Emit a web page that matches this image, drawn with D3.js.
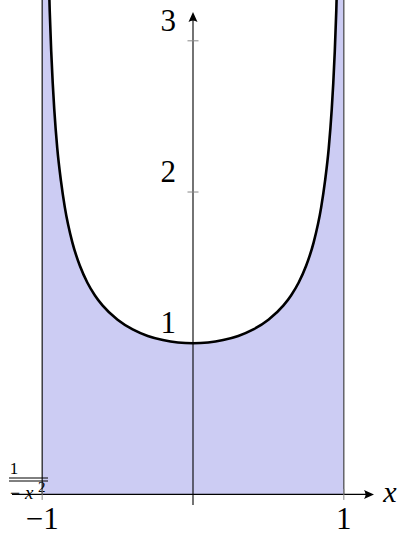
<!DOCTYPE html>
<html>
<head>
<meta charset="utf-8">
<script src="https://cdn.jsdelivr.net/npm/d3@7"></script>
<style>
  html, body { margin: 0; padding: 0; background: #fff; }
  svg { display: block; }
</style>
</head>
<body>
<script>
// Sampled points of y = 1/sqrt(1 - x^2) on (-1, 1)
const curveX = [-0.985, -0.98, -0.97, -0.96, -0.95, -0.94, -0.93, -0.92, -0.9, -0.875, -0.85, -0.8, -0.75, -0.7, -0.65, -0.6, -0.5, -0.4, -0.3, -0.2, -0.1, 0,
                0.1, 0.2, 0.3, 0.4, 0.5, 0.6, 0.65, 0.7, 0.75, 0.8, 0.85, 0.875, 0.9, 0.92, 0.93, 0.94, 0.95, 0.96, 0.97, 0.98, 0.985];
const curveY = [5.81, 5.03, 4.11, 3.57, 3.20, 2.93, 2.72, 2.55, 2.29, 2.07, 1.90, 1.667, 1.512, 1.400, 1.316, 1.250, 1.155, 1.091, 1.048, 1.021, 1.005, 1.000,
                1.005, 1.021, 1.048, 1.091, 1.155, 1.250, 1.316, 1.400, 1.512, 1.667, 1.90, 2.07, 2.29, 2.55, 2.72, 2.93, 3.20, 3.57, 4.11, 5.03, 5.81];
const xTicks = [-1, 1];
const xTickLabels = ["\u22121", "1"];
const yTicks = [1, 2, 3];
const yTickLabels = ["1", "2", "3"];
const xDomain = [-1.2, 1.2];
const yDomain = [-0.07, 3.27];

const W = 399, H = 535;
const SERIF = "'Liberation Serif', 'DejaVu Serif', serif";
const x = d3.scaleLinear().domain(xDomain).range([12, 374]);
const y = d3.scaleLinear().domain(yDomain).range([505, 0]);

const svg = d3.select("body").append("svg")
  .attr("width", W).attr("height", H)
  .attr("viewBox", `0 0 ${W} ${H}`);

svg.append("clipPath").attr("id", "plotClip")
  .append("rect").attr("x", 0).attr("y", 0).attr("width", W).attr("height", y(0));

const pts = curveX.map((d, i) => [d, curveY[i]]);

// Shaded region between x = -1 and x = 1 beneath the curve
const area = d3.area()
  .x(d => x(d[0])).y0(y(0)).y1(d => y(d[1]))
  .curve(d3.curveMonotoneX);
const fillPts = [[-1, 8], ...pts, [1, 8]];
svg.append("path")
  .attr("clip-path", "url(#plotClip)")
  .attr("d", area(fillPts))
  .attr("fill", "#ccccf3");

// Bounding verticals
[-1, 1].forEach(v => {
  svg.append("line")
    .attr("x1", x(v)).attr("x2", x(v))
    .attr("y1", 0).attr("y2", y(0))
    .attr("stroke", v < 0 ? "#111" : "#444").attr("stroke-width", 1.2);
});

const label = (g, tx, ty, size, str, opts = {}) => g.append("text")
  .attr("x", tx).attr("y", ty)
  .style("font-family", SERIF)
  .style("font-size", size + "px")
  .style("font-style", opts.italic ? "italic" : "normal")
  .attr("text-anchor", opts.anchor || "start")
  .attr("fill", "#000")
  .text(str);

// Fraction label partly hidden at the lower left
const frac = svg.append("g");
label(frac, 14, 474, 17, "1", { anchor: "middle" });
[478, 481].forEach(yy => frac.append("line")
  .attr("x1", 9).attr("x2", 48).attr("y1", yy).attr("y2", yy)
  .attr("stroke", "#000").attr("stroke-width", 1));
label(frac, 10, 499, 18, "\u2212");
label(frac, 25, 499, 19, "x", { italic: true });
label(frac, 38, 492, 15, "2");

// Axes
const arrow = (tipX, tipY, dir) => {
  const p = dir === "up"
    ? `M${tipX},${tipY} L${tipX - 4.5},${tipY + 10} Q${tipX},${tipY + 7} ${tipX + 4.5},${tipY + 10} Z`
    : `M${tipX},${tipY} L${tipX - 10},${tipY - 4.5} Q${tipX - 7},${tipY} ${tipX - 10},${tipY + 4.5} Z`;
  svg.append("path").attr("d", p).attr("fill", "#000");
};

svg.append("line")
  .attr("x1", x(xDomain[0])).attr("x2", x(xDomain[1]) - 3)
  .attr("y1", y(0)).attr("y2", y(0))
  .attr("stroke", "#000").attr("stroke-width", 1.1);
arrow(x(xDomain[1]), y(0), "right");

svg.append("line")
  .attr("x1", x(0)).attr("x2", x(0))
  .attr("y1", y(yDomain[0])).attr("y2", 15)
  .attr("stroke", "#000").attr("stroke-width", 1.1);
arrow(x(0), 12, "up");

// Tick marks
xTicks.forEach(v => svg.append("line")
  .attr("x1", x(v)).attr("x2", x(v))
  .attr("y1", y(0) - 5.5).attr("y2", y(0) + 5.5)
  .attr("stroke", "#888").attr("stroke-width", 1));
yTicks.forEach(v => svg.append("line")
  .attr("x1", x(0) - 5.5).attr("x2", x(0) + 5.5)
  .attr("y1", y(v)).attr("y2", y(v))
  .attr("stroke", "#888").attr("stroke-width", 1));

// Curve
const line = d3.line().x(d => x(d[0])).y(d => y(d[1])).curve(d3.curveMonotoneX);
svg.append("path")
  .attr("clip-path", "url(#plotClip)")
  .attr("d", line(pts))
  .attr("fill", "none").attr("stroke", "#000").attr("stroke-width", 2.6);

// Tick labels
yTicks.forEach((v, i) => label(svg, x(0) - 17, y(v) - 10, 31, yTickLabels[i], { anchor: "end" }));
xTicks.forEach((v, i) => label(svg, x(v), 529, 31, xTickLabels[i], { anchor: "middle" }));

// Axis name
label(svg, 390, 502, 30, "x", { anchor: "middle", italic: true });
</script>
</body>
</html>
